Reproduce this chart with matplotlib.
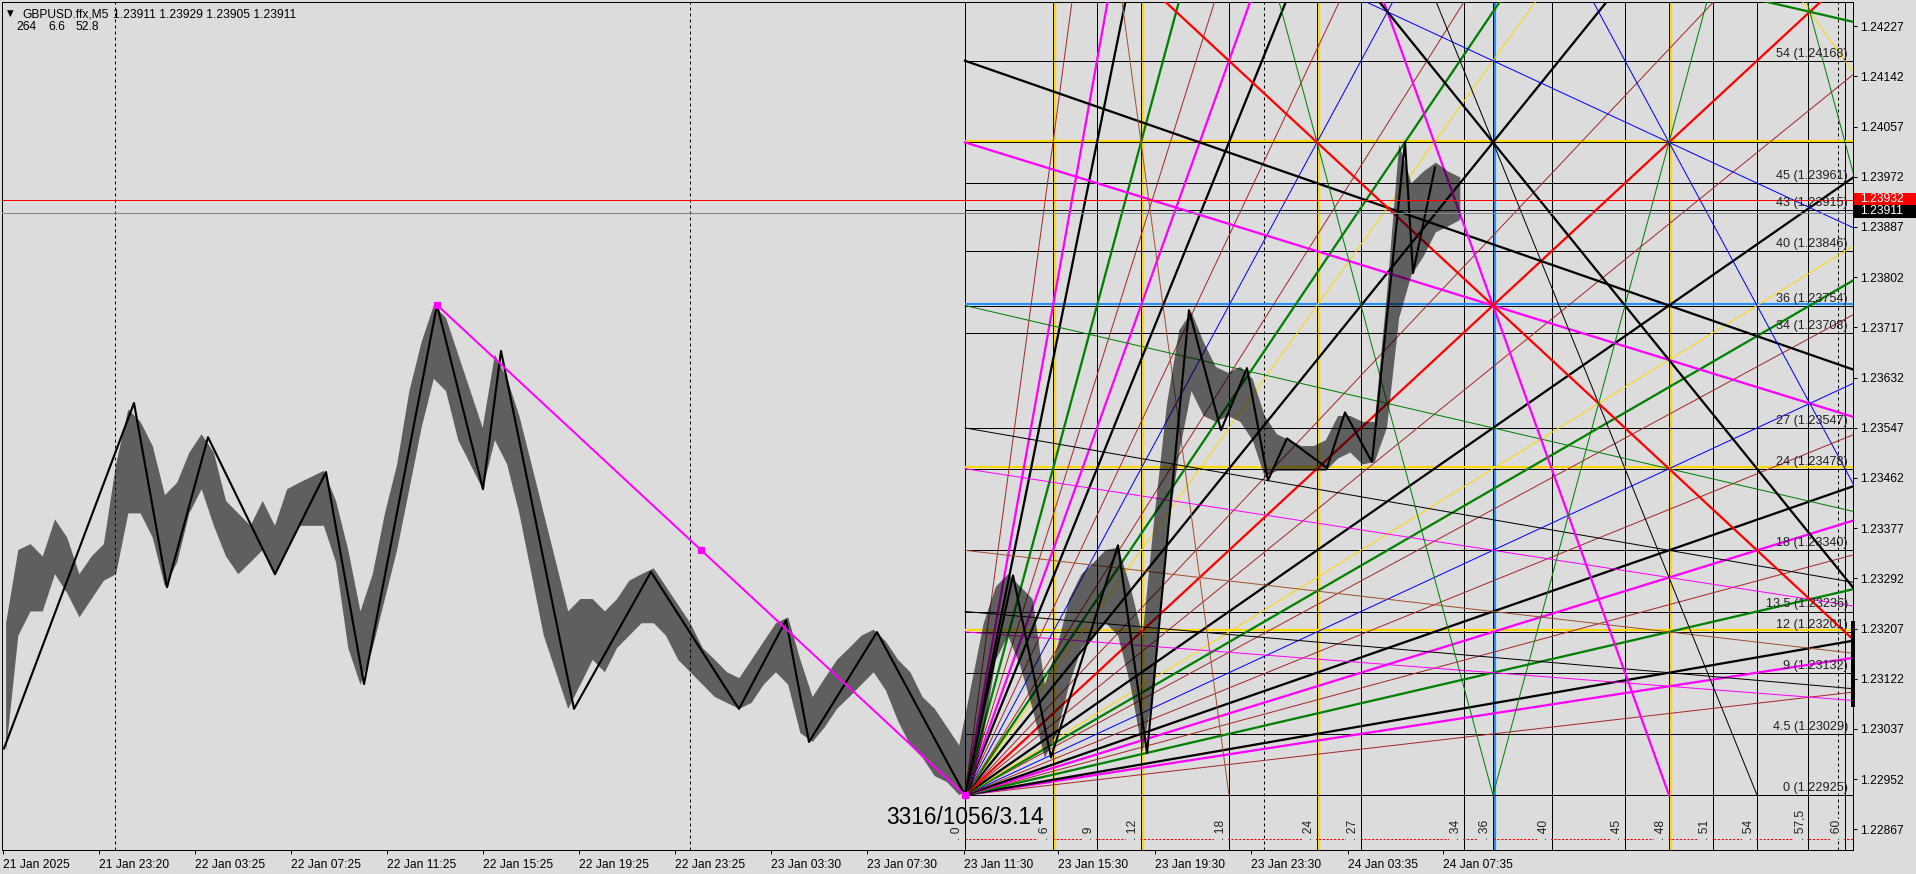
import numpy as np
import matplotlib
matplotlib.use("Agg")
import matplotlib.pyplot as plt
from matplotlib.patches import Rectangle

plt.rcParams['font.family'] = ['Liberation Sans', 'DejaVu Sans']
plt.rcParams['hatch.linewidth'] = 0.85

W, H, DPI = 1916, 874, 96
BG = '#dcdcdc'

# ── Price data (M5 bars, read in groups of ~6 bars) ──────────────────────────
bar_hi = [1.23216, 1.23340, 1.23350, 1.23329, 1.23392, 1.23361, 1.23299, 1.23329, 1.23350, 1.23485,
          1.23578, 1.23557, 1.23516, 1.23433, 1.23454, 1.23505, 1.23536, 1.23505, 1.23423, 1.23402,
          1.23381, 1.23423, 1.23381, 1.23443, 1.23454, 1.23464, 1.23474, 1.23423, 1.23340, 1.23236,
          1.23299, 1.23402, 1.23485, 1.23609, 1.23692, 1.23754, 1.23733, 1.23671, 1.23609, 1.23547,
          1.23671, 1.23630, 1.23567, 1.23485, 1.23402, 1.23319, 1.23236, 1.23257, 1.23257, 1.23236,
          1.23257, 1.23288, 1.23299, 1.23309, 1.23278, 1.23247, 1.23216, 1.23174, 1.23154, 1.23133,
          1.23123, 1.23154, 1.23185, 1.23216, 1.23226, 1.23154, 1.23091, 1.23123, 1.23154, 1.23174,
          1.23195, 1.23205, 1.23185, 1.23154, 1.23133, 1.23091, 1.23071, 1.23040, 1.23009, 1.23112,
          1.23216, 1.23278, 1.23299, 1.23278, 1.23257, 1.23112, 1.23174, 1.23257, 1.23299, 1.23319,
          1.23340, 1.23344, 1.23278, 1.23195, 1.23402, 1.23588, 1.23712, 1.23743, 1.23692, 1.23650,
          1.23640, 1.23650, 1.23630, 1.23567, 1.23536, 1.23526, 1.23516, 1.23516, 1.23526, 1.23567,
          1.23567, 1.23557, 1.23557, 1.23774, 1.24027, 1.23961, 1.23981, 1.23996, 1.23981, 1.23971]
bar_lo = [1.22999, 1.23195, 1.23236, 1.23236, 1.23299, 1.23267, 1.23226, 1.23257, 1.23288, 1.23299,
          1.23402, 1.23402, 1.23361, 1.23278, 1.23319, 1.23402, 1.23443, 1.23381, 1.23329, 1.23299,
          1.23319, 1.23340, 1.23299, 1.23340, 1.23381, 1.23381, 1.23381, 1.23319, 1.23174, 1.23112,
          1.23174, 1.23257, 1.23340, 1.23443, 1.23547, 1.23630, 1.23609, 1.23526, 1.23485, 1.23443,
          1.23526, 1.23485, 1.23402, 1.23299, 1.23195, 1.23133, 1.23071, 1.23112, 1.23154, 1.23133,
          1.23174, 1.23195, 1.23216, 1.23216, 1.23195, 1.23154, 1.23133, 1.23112, 1.23091, 1.23081,
          1.23071, 1.23081, 1.23112, 1.23133, 1.23112, 1.23030, 1.23015, 1.23040, 1.23071, 1.23091,
          1.23112, 1.23133, 1.23102, 1.23050, 1.23009, 1.22988, 1.22957, 1.22947, 1.22925, 1.22936,
          1.23030, 1.23154, 1.23195, 1.23143, 1.23071, 1.22988, 1.23030, 1.23112, 1.23174, 1.23195,
          1.23216, 1.23195, 1.23112, 1.22999, 1.23112, 1.23361, 1.23505, 1.23609, 1.23567, 1.23557,
          1.23567, 1.23557, 1.23526, 1.23464, 1.23474, 1.23474, 1.23474, 1.23474, 1.23474, 1.23495,
          1.23505, 1.23485, 1.23489, 1.23547, 1.23733, 1.23805, 1.23837, 1.23878, 1.23888, 1.23899]
GROUP_BARS = 6.11

# ZigZag pivots (bar index, price)
zz_bar = [0.5, 65.5, 82, 102.5, 136, 161.5, 180.5, 217, 240, 249, 285.5, 324, 368, 391.5, 403, 437,
          481, 505, 524, 557.5, 572, 593, 609, 622, 632.5, 642, 662, 671, 684.5, 701, 705, 716]
zz_px = [1.23004, 1.23589, 1.23277, 1.23531, 1.23299, 1.23472, 1.23113, 1.23755, 1.23443, 1.23677,
         1.23071, 1.23303, 1.23071, 1.23221, 1.23015, 1.23201, 1.22925, 1.23297, 1.22989, 1.23348,
         1.22996, 1.23746, 1.23543, 1.23648, 1.23458, 1.23529, 1.23479, 1.23573, 1.23489, 1.24031,
         1.23809, 1.23988]

trend_bar = [217, 481]
trend_px = [1.23755, 1.22925]

# time axis
tick_bars = [0, 48, 96, 144, 192, 240, 288, 336, 384, 432, 480.5, 527.5, 576, 624, 672.5, 720]
tick_text = ['21 Jan 2025', '21 Jan 23:20', '22 Jan 03:25', '22 Jan 07:25', '22 Jan 11:25',
             '22 Jan 15:25', '22 Jan 19:25', '22 Jan 23:25', '23 Jan 03:30', '23 Jan 07:30',
             '23 Jan 11:30', '23 Jan 15:30', '23 Jan 19:30', '23 Jan 23:30', '24 Jan 03:35',
             '24 Jan 07:35']
day_sep = [56, 343.5, 630.5, 917.5]
price_ticks = [1.22867 + 0.00085 * k for k in range(17)]

ask_line, bid_line = 1.23932, 1.23911
header_ohlc = ['1.23911', '1.23929', '1.23905', '1.23911']
header_ind = ['264', '6.6', '52.8']

# ── Gann square: 3316 points x 1056 bars split into 144 units ───────────────
G_BAR0, G_P0 = 481, 1.22925
G_TB = 1056 / 144
G_PU = 0.03316 / 144
h_levels = [0, 4.5, 9, 12, 13.5, 18, 24, 27, 34, 36, 40, 43, 45, 48, 54]
h_colors = ['k', 'k', 'k', 'gold', 'k', 'k', 'gold', 'k', 'k', 'dodgerblue', 'k', 'k', 'k', 'gold', 'k']
h_label = ['0', '4.5', '9', '12', '13.5', '18', '24', '27', '34', '36', '40', '43', '45', '', '54']
h_label_px = [1.22925, 1.23029, 1.23132, 1.23201, 1.23236, 1.23340, 1.23478, 1.23547, 1.23708,
              1.23754, 1.23846, 1.23915, 1.23961, None, 1.24168]
v_levels = [0, 6, 9, 12, 18, 24, 27, 34, 36, 40, 45, 48, 51, 54, 57.5, 60]
v_colors = ['k', 'gold', 'k', 'gold', 'k', 'gold', 'k', 'k', 'dodgerblue', 'k', 'k', 'gold', 'k', 'k', 'k', 'k']
v_label = ['0', '6', '9', '12', '18', '24', '27', '34', '36', '40', '45', '48', '51', '54', '57,5', '60']
base_dash_px = 1.22850

# fan slopes (price units per time unit) and styles
fan_origin = [(1/8, 'brown', 0), (1/6, 'magenta', 1), (3/16, 'black', 1), (1/4, 'green', 1),
              (7/24, 'brown', 0), (1/3, 'magenta', 1), (3/8, 'black', 1), (7/16, 'brown', 0),
              (1/2, 'blue', 0), (7/12, 'brown', 0), (5/8, 'green', 1), (2/3, 'gold', 0),
              (3/4, 'black', 1), (7/8, 'brown', 0), (1, 'red', 1), (8/7, 'brown', 0),
              (4/3, 'black', 1), (3/2, 'gold', 0), (8/5, 'green', 1), (12/7, 'brown', 0),
              (2, 'blue', 0), (16/7, 'brown', 0), (8/3, 'black', 1), (3, 'magenta', 1),
              (24/7, 'brown', 0), (4, 'green', 1), (16/3, 'black', 1), (6, 'magenta', 1),
              (8, 'brown', 0)]
fan_144 = [(1/12, 'magenta', 0), (3/32, 'black', 0), (1/8, 'sienna', 0), (1/6, 'magenta', 0),
           (3/16, 'black', 0), (1/4, 'green', 0), (1/3, 'magenta', 1), (3/8, 'black', 1),
           (1/2, 'blue', 0)]
fan_top = [(8, 'sienna', 0), (4, 'green', 0), (3, 'magenta', 1), (8/3, 'black', 0),
           (2, 'blue', 0), (3/2, 'gold', 0)]
fan_72 = [(1, 'red', 1), (4/3, 'black', 1), (4, 'green', 0)]

THICK, THIN = 1.7, 0.75
PX_P = (1.24268 - 1.22832) / 848     # price per pixel
PX_B = 0.5                            # bars per pixel


def gx(t):
    return G_BAR0 + np.asarray(t) * G_TB


def gy(L):
    return G_P0 + np.asarray(L) * G_PU


fig = plt.figure(figsize=(W / DPI, H / DPI), dpi=DPI, facecolor=BG)
ax = fig.add_axes([2 / W, 1 - 850 / H, 1851 / W, 848 / H])
ax.set_facecolor(BG)
ax.set_xlim(-0.5, 925)
ax.set_ylim(1.22832, 1.24268)

# separators
for b in day_sep:
    ax.axvline(b, color='black', lw=0.75, ls=(0, (3, 3)), zorder=1)

# Gann grid: verticals
for t, c in zip(v_levels, v_colors):
    ax.axvline(gx(t), color='black', lw=0.75, zorder=2)
    if c != 'k':
        ax.axvline(gx(t) + 1.5 * PX_B, color=c, lw=1.6, zorder=2)

# Gann grid: horizontals
for L, c in zip(h_levels, h_colors):
    ax.hlines(gy(L), G_BAR0, 926, color='black', lw=0.75, zorder=2)
    if c != 'k':
        ax.hlines(gy(L) + 1.5 * PX_P, G_BAR0, 926, color=c, lw=1.6, zorder=2)
for L, s, p in zip(h_levels, h_label, h_label_px):
    if s:
        ax.text(922.5, gy(L) + 1 * PX_P, f"{s} ({p:.5f})", ha='right', va='bottom',
                fontsize=9.5, color='#202020', zorder=6)

# Gann fans
t_end = 64
for s, c, thick in fan_origin:
    ts = np.array([0, t_end])
    ax.plot(gx(ts), gy(s * ts), color=c, lw=THICK if thick else THIN, zorder=3)
for s, c, thick in fan_144:
    ts = np.array([0, t_end])
    ax.plot(gx(ts), gy(s * (144 - ts)), color=c, lw=THICK if thick else THIN, zorder=3)
for s, c, thick in fan_top:
    ts = np.array([0, min(t_end, 144 / s)])
    ax.plot(gx(ts), gy(144 - s * ts), color=c, lw=THICK if thick else THIN, zorder=3)
for s, c, thick in fan_72:
    ts = np.array([0, t_end])
    ax.plot(gx(ts), gy(s * (72 - ts)), color=c, lw=THICK if thick else THIN, zorder=3)
ts = np.array([0, t_end])
ax.plot(gx(ts), gy(72 - ts / 4), color='green', lw=THICK, zorder=3)
ts = np.array([36, t_end])
ax.plot(gx(ts), gy(4 * (ts - 36)), color='green', lw=THIN, zorder=3)

# red dotted base line with time labels
ax.hlines(base_dash_px, G_BAR0, 926, color='red', lw=0.75, linestyles=(0, (2.2, 1.6)), zorder=2)
for t, s in zip(v_levels, v_label):
    ax.text(gx(t) - 1.0, base_dash_px - 1 * PX_P, ". " + s, rotation=90, ha='right', va='bottom',
            fontsize=9, color='#202020', zorder=6,
            bbox=dict(facecolor=BG, edgecolor='none', pad=0.6))

# price bars (group high/low envelope drawn as dense vertical bars)
gb = 1.555 + GROUP_BARS * np.arange(len(bar_hi))
ax.fill_between(gb, bar_lo, bar_hi, facecolor='none', edgecolor='black', hatch='|' * 8,
                linewidth=0, zorder=4)

# zigzag
ax.plot(zz_bar, zz_px, color='black', lw=1.6, zorder=5)

# magenta trendline
ax.plot(trend_bar, trend_px, color='magenta', lw=1.5, zorder=5)
ax.plot([trend_bar[0], np.mean(trend_bar), trend_bar[1]],
        [trend_px[0], np.mean(trend_px), trend_px[1]],
        ls='none', marker='s', ms=4, color='magenta', zorder=5)

# price lines
ax.axhline(ask_line, color='red', lw=0.75, zorder=5)
ax.axhline(bid_line, color='lightslategray', lw=0.75, zorder=5)
ax.plot([925, 925], [1.23077, 1.23216], color='black', lw=3, clip_on=False, zorder=7)

ax.text(G_BAR0, 1.22876, "3316/1056/3.14", ha='center', va='baseline', fontsize=17, zorder=6)

# axes styling
for sp in ax.spines.values():
    sp.set_color('black')
    sp.set_linewidth(0.75)
ax.set_xticks(tick_bars)
ax.set_xticklabels(tick_text)
for lbl in ax.get_xticklabels():
    lbl.set_horizontalalignment('left')
ax.yaxis.tick_right()
ax.set_yticks(price_ticks)
ax.set_yticklabels([f"{p:.5f}" for p in price_ticks])
ax.tick_params(axis='x', direction='out', length=3, width=0.75, pad=4, labelsize=9)
ax.tick_params(axis='y', direction='out', length=3, width=0.75, pad=2.5, labelsize=9)


def fx(px):
    return px / W


def fy(py):
    return 1 - py / H


# price badges on the right scale
fig.patches.append(Rectangle((fx(1854), fy(205)), (1916 - 1854) / W, 12 / H, transform=fig.transFigure,
                             facecolor='red', edgecolor='none'))
fig.patches.append(Rectangle((fx(1854), fy(218)), (1916 - 1854) / W, 13 / H, transform=fig.transFigure,
                             facecolor='black', edgecolor='none'))
fig.text(fx(1860), fy(199), f"{ask_line:.5f}", color='white', fontsize=9, va='center')
fig.text(fx(1860), fy(211.5), f"{bid_line:.5f}", color='white', fontsize=9, va='center')

# header
fig.text(fx(7), fy(13), "\u25bc", fontsize=6.5, family='DejaVu Sans', va='center')
fig.text(fx(22), fy(17.5), "GBPUSD.ffx,M5", fontsize=9, va='baseline')
fig.text(fx(113), fy(17.5), " ".join(header_ohlc), fontsize=9, va='baseline')
for xp, s in zip([16, 48, 75], header_ind):
    fig.text(fx(xp), fy(30), s, fontsize=9, va='baseline')

fig.savefig("out.png", dpi=DPI, facecolor=BG)
